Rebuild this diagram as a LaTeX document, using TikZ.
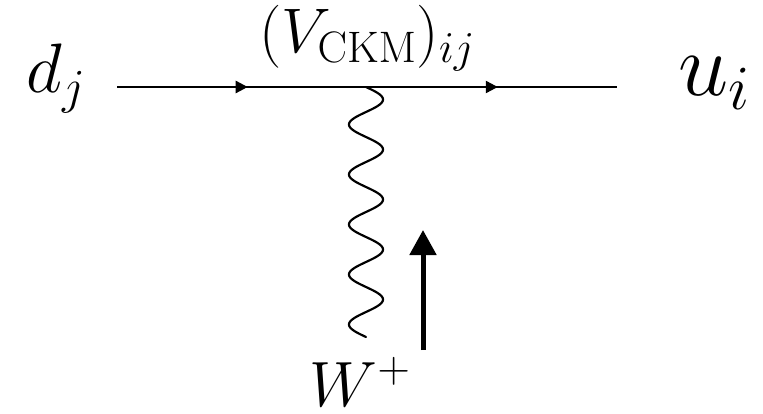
\RequirePackage{fix-cm}
\documentclass[tikz,border=0pt]{standalone}
\usetikzlibrary{arrows.meta,decorations.markings}
\tikzset{
  fermion/.style={line width=2.4pt,postaction={decorate},
    decoration={markings,mark=at position 0.525 with {\arrow{Triangle[length=12pt,width=12pt]}}}},
  boson/.style={line width=2.2pt,line cap=round},
  momentum/.style={line width=5pt,-{Triangle[length=25pt,width=26pt]}},
  lbl/.style={anchor=base,inner sep=0pt}
}
\begin{document}
\begin{tikzpicture}[x=1pt,y=1pt]
\useasboundingbox (0,0) rectangle (763,413);
\coordinate (a) at (117,326);
\coordinate (v) at (366,326);
\coordinate (b) at (617,326);
\coordinate (w) at (366,76);
\coordinate (p1) at (423,63);
\coordinate (p2) at (423,183);
\draw[fermion] (a) -- (v);
\draw[fermion] (v) -- (b);
\draw[boson] plot[domain=0:250,samples=301,variable=\t,smooth] ({366+17*sin(7.2*\t)},{326-\t});
\draw[momentum] (p1) -- (p2);
\node[lbl,font=\fontsize{70}{80}\selectfont] (dj) at (56,320) {$d_j$};
\node[lbl,font=\fontsize{90}{100}\selectfont] (ui) at (714,317) {$u_i$};
\node[lbl,font=\fontsize{63}{72}\selectfont] (vckm) at (367,360) {$(V_{\mathrm{CKM}})_{ij}$};
\node[lbl,font=\fontsize{64}{76}\selectfont] (wp) at (360,7) {$W^+$};
\end{tikzpicture}
\end{document}
